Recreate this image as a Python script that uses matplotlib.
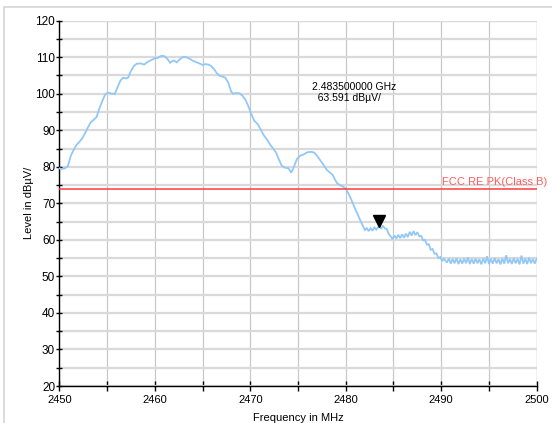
import matplotlib
matplotlib.use("Agg")
import matplotlib.pyplot as plt
from matplotlib.patches import Rectangle
from matplotlib.ticker import MultipleLocator
import matplotlib.transforms as mtransforms

plt.rcParams['font.family'] = ['Liberation Sans', 'DejaVu Sans']

# ---- data ----
freq_main = [2450.0, 2450.3, 2450.6, 2450.9, 2451.2, 2451.5, 2451.8, 2452.1, 2452.4, 2452.7,
             2453.0, 2453.3, 2453.6, 2453.9, 2454.2, 2454.5, 2454.8, 2455.1, 2455.4, 2455.8,
             2456.1, 2456.4, 2456.7, 2457.0, 2457.2, 2457.5, 2457.8, 2458.1, 2458.5, 2458.9,
             2459.3, 2459.7, 2460.0, 2460.3, 2460.7, 2461.0, 2461.3, 2461.6, 2461.8, 2462.0,
             2462.3, 2462.6, 2463.0, 2463.3, 2463.7, 2464.0, 2464.2, 2464.6, 2465.0, 2465.3,
             2465.6, 2465.9, 2466.2, 2466.5, 2466.8, 2467.1, 2467.4, 2467.7, 2468.0, 2468.2,
             2468.5, 2468.9, 2469.2, 2469.5, 2469.8, 2470.1, 2470.4, 2470.8, 2471.1, 2471.4,
             2471.8, 2472.1, 2472.4, 2472.7, 2473.0, 2473.3, 2473.6, 2474.0, 2474.3, 2474.6,
             2474.9, 2475.2, 2475.6, 2476.0, 2476.4, 2476.7, 2477.0, 2477.3, 2477.6, 2478.0,
             2478.3, 2478.6, 2478.9, 2479.1, 2479.4, 2479.7, 2480.0, 2480.3, 2480.6, 2480.9,
             2481.2, 2481.5, 2481.8, 2482.0, 2482.2, 2482.4, 2482.6, 2482.8, 2483.0, 2483.2,
             2483.5, 2483.7, 2483.9, 2484.1, 2484.3, 2484.5, 2484.7, 2484.9, 2485.1, 2485.3,
             2485.5, 2485.7, 2485.9, 2486.1, 2486.3, 2486.5, 2486.7, 2486.9, 2487.1, 2487.3,
             2487.5, 2487.7, 2487.9, 2488.1, 2488.3, 2488.5, 2488.7, 2488.9, 2489.1, 2489.3,
             2489.5, 2489.7, 2489.9, 2490.1, 2490.3, 2490.6]
level_main = [79.6, 79.4, 79.6, 80.2, 83.0, 84.6, 86.0, 86.8, 87.8, 89.2,
              90.8, 92.2, 92.9, 93.6, 96.0, 98.0, 99.8, 100.3, 100.1, 99.9,
              101.8, 103.6, 104.4, 104.2, 104.4, 106.2, 107.6, 108.2, 108.3, 108.0,
              108.8, 109.3, 109.7, 109.8, 110.4, 110.3, 109.6, 108.5, 108.9, 109.1,
              108.6, 109.4, 110.1, 110.0, 109.5, 109.0, 108.8, 108.4, 107.9, 108.1,
              108.0, 107.6, 106.8, 105.6, 104.9, 104.7, 104.4, 103.0, 100.6, 100.0,
              100.2, 100.1, 99.4, 98.3, 96.6, 94.5, 92.7, 91.6, 90.2, 88.7,
              87.3, 86.0, 85.0, 83.9, 82.0, 80.3, 79.8, 79.6, 78.4, 80.2,
              82.2, 83.0, 83.4, 84.0, 84.1, 83.9, 83.0, 81.9, 80.8, 79.2,
              78.5, 77.9, 76.4, 75.5, 75.0, 74.6, 74.0, 72.6, 70.9, 69.0,
              67.3, 65.5, 63.8, 62.7, 63.2, 62.4, 63.2, 62.5, 63.4, 62.8,
              63.8, 63.0, 63.9, 63.1, 63.0, 61.6, 61.0, 60.2, 61.2, 60.4,
              61.4, 60.5, 61.5, 60.6, 61.7, 60.8, 62.2, 61.2, 62.4, 61.3,
              62.1, 61.0, 61.1, 59.9, 60.0, 58.7, 58.8, 57.3, 57.5, 56.2,
              56.3, 55.0, 55.3, 54.2, 54.8, 53.8]
freq_tail = [2490.8, 2491.0, 2491.2, 2491.4, 2491.6, 2491.8, 2492.0, 2492.2, 2492.4, 2492.6,
             2492.8, 2493.0, 2493.2, 2493.4, 2493.6, 2493.8, 2494.0, 2494.2, 2494.4, 2494.6,
             2494.8, 2495.0, 2495.2, 2495.4, 2495.6, 2495.8, 2496.0, 2496.2, 2496.4, 2496.6,
             2496.8, 2497.0, 2497.2, 2497.4, 2497.6, 2497.8, 2498.0, 2498.2, 2498.4, 2498.6,
             2498.8, 2499.0, 2499.2, 2499.4, 2499.6, 2499.8, 2500.0]
level_tail = [54.9, 53.5, 54.8, 53.6, 55.0, 53.4, 54.7, 53.5, 54.9, 53.6,
              55.2, 53.4, 54.8, 53.5, 54.9, 53.6, 54.7, 53.3, 54.9, 53.6,
              55.5, 53.4, 54.8, 53.5, 55.0, 53.6, 54.7, 53.3, 54.9, 53.5,
              55.8, 53.6, 54.8, 53.4, 55.0, 53.6, 54.8, 53.3, 55.7, 53.5,
              54.9, 53.4, 55.1, 53.6, 54.8, 53.5, 54.9]

limit_level = 74.0
limit_label = "FCC RE PK(Class B)"
marker_freq = 2483.5
marker_level = 63.591
marker_text = "2.483500000 GHz\n  63.591 dBµV/"
x_ticks = [2450, 2460, 2470, 2480, 2490, 2500]
y_ticks = [20, 30, 40, 50, 60, 70, 80, 90, 100, 110, 120]

# ---- figure ----
W, H = 552, 423
fig = plt.figure(figsize=(W / 100, H / 100), dpi=100)
fig.patches.append(Rectangle((4 / W, -0.1), 1.2, 1 - 7 / H + 0.1, transform=fig.transFigure,
                             fill=False, edgecolor='#d4d4d4', linewidth=1.2))

ax = fig.add_axes([59.3 / W, 1 - 386 / H, (536.7 - 59.3) / W, (386 - 20.7) / H])
ax.set_xlim(2450, 2500)
ax.set_ylim(20, 120)

ax.xaxis.set_minor_locator(MultipleLocator(5))
ax.yaxis.set_minor_locator(MultipleLocator(5))
ax.set_xticks(x_ticks)
ax.set_yticks(y_ticks)

ax.grid(True, which='both', axis='x', color='#c8c8c8', linewidth=0.9)
ax.grid(True, which='both', axis='y', color='#dadada', linewidth=1.6)
ax.set_axisbelow(True)

for s in ['top', 'right']:
    ax.spines[s].set_visible(False)
for s in ['left', 'bottom']:
    ax.spines[s].set_color('black')
    ax.spines[s].set_linewidth(1.0)
ax.axvline(2500, color='#c8c8c8', linewidth=0.9, zorder=0)
ax.axhline(120, color='#dadada', linewidth=1.6, zorder=0)

ax.tick_params(axis='both', which='both', direction='inout', color='black', width=1.0)
ax.tick_params(axis='x', which='major', length=7, labelsize=8, pad=3)
ax.tick_params(axis='x', which='minor', length=7)
ax.tick_params(axis='y', which='major', length=4, labelsize=8.5, pad=1)
ax.tick_params(axis='y', which='minor', length=4)

# trace
ax.plot(freq_main + freq_tail, level_main + level_tail, color='#92c8f7', linewidth=1.3,
        zorder=3, solid_joinstyle='miter')

# limit line
ax.axhline(limit_level, color='#ff3b3b', linewidth=1.1, zorder=4)
ax.text(2490.05, limit_level + 0.4, limit_label, color='#ff5f5f', fontsize=8,
        ha='left', va='bottom', clip_on=False)

# marker
off = mtransforms.offset_copy(ax.transData, fig=fig, x=0, y=4.2, units='points')
ax.plot([marker_freq], [marker_level], marker='v', color='black', markersize=8.5,
        transform=off, zorder=5, linestyle='none')
ax.text(2476.45, 100.3, marker_text, fontsize=7.5, ha='left', va='center', linespacing=1.2)

ax.set_xlabel("Frequency in MHz", fontsize=8)
ax.set_ylabel("Level in dBµV/", fontsize=8)
ax.xaxis.set_label_coords(0.5, -0.074)
ax.yaxis.set_label_coords(-0.054, 0.5)

fig.savefig("out.png", dpi=100)
